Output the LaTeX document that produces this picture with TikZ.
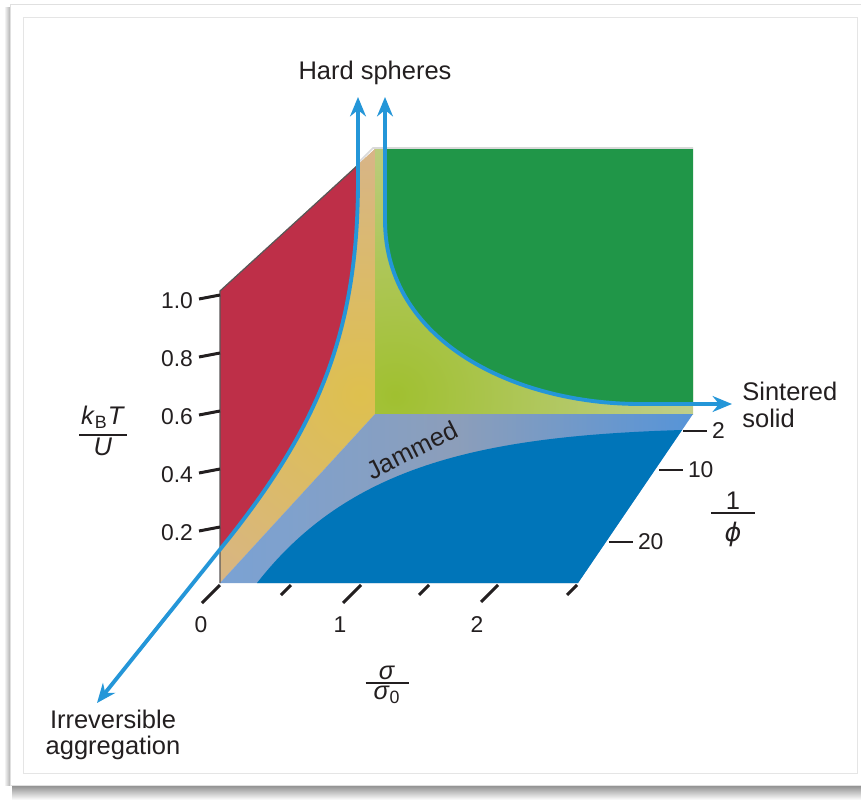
\documentclass[tikz,border=0pt]{standalone}
\usepackage{amsmath}
\usepackage{fontspec}
\setmainfont{Liberation Sans}
\newfontfamily\greekfont{DejaVu Sans}
\usetikzlibrary{arrows.meta}
\definecolor{ink}{RGB}{35,31,32}
\definecolor{flow}{RGB}{36,150,216}
\definecolor{hot}{RGB}{190,47,72}
\definecolor{solidgreen}{RGB}{32,150,72}
\definecolor{floorblue}{RGB}{0,117,185}
\definecolor{jamtan}{RGB}{214,178,148}
\definecolor{jamyel}{RGB}{222,192,78}
\definecolor{jamlime}{RGB}{160,192,48}
\definecolor{jampale}{RGB}{192,206,140}
\definecolor{jamblue}{RGB}{122,162,212}
\definecolor{jamgrey}{RGB}{140,158,186}
\definecolor{jamsky}{RGB}{86,148,216}
\newcommand{\phfrac}[3][0.88cm]{$\genfrac{}{}{1.1pt}{1}{\makebox[#1]{#2}}{\makebox[#1]{#3}}$}

\begin{document}
\begin{tikzpicture}[x=0.02cm,y=-0.02cm,
 tick/.style={draw=ink,line width=1.7pt},
 lab/.style={font=\fontsize{14.5}{15}\selectfont,text=ink,inner sep=0pt},
 num/.style={font=\fontsize{13}{15}\selectfont,text=ink,inner sep=1pt},
 flowline/.style={draw=flow,line width=2.2pt,arrows={Stealth[length=11pt,width=9pt]-Stealth[length=11pt,width=9pt]}}]
 \useasboundingbox (0,0) rectangle (861,800);
 % card
 \fill[white] (0,0) rectangle (861,800);
 \shade[top color=black!45,bottom color=white] (12,785) rectangle (861,800);
 \shade[left color=white,right color=black!30] (4,8) rectangle (10,785);
 \fill[white] (10,4) rectangle (861,785);
 \draw[black!12] (861,4) -- (10,4) -- (10,785) -- (861,785);
 \draw[black!10] (23,17) rectangle (857,773);
 % left wall
 \begin{scope}
  \clip (220,291) -- (375,149) -- (375,414) -- (220,583) -- cycle;
  \fill[jamtan] (200,140) rectangle (380,590);
  \shade[inner color=jamyel,outer color=jamtan] (360,395) circle (300);
 \end{scope}
 \fill[hot] (220,291) -- (358,165) -- (358,180) .. controls (358,333) and (318,428) .. (222,547) -- (220,549.5) -- cycle;
 % back wall
 \begin{scope}
  \clip (375,149) rectangle (693,414);
  \fill[jampale] (375,149) rectangle (693,414);
  \shade[inner color=jamlime,outer color=jampale] (395,395) circle (300);
 \end{scope}
 \fill[solidgreen] (385,149) -- (385,220) .. controls (385,343) and (517,404) .. (640,404) -- (693,404) -- (693,149) -- cycle;
 % floor
 \shade[left color=jamblue,right color=jamsky,middle color=jamgrey] (220,583) -- (578,583) -- (693,414) -- (375,414) -- cycle;
 \fill[floorblue] (257,583) .. controls (349,465) and (482,436) .. (682,430) -- (578,583) -- cycle;
 \draw[ink!75,line width=0.7pt] (220,583) -- (220,291) -- (358,165);
 \draw[black!15,line width=1pt] (358,163) -- (373,148) -- (693,148);
 \node[lab,rotate=26.6] (jam) at (412,450) {Jammed};
 % axes
 \foreach \y/\v [count=\i] in {295/1.0,353/0.8,411/0.6,469/0.4,527/0.2}{
   \draw[tick] (199,\y+4) -- (220,\y);
   \node[num,anchor=east] (kt\i) at (195,\y+6) {\v};
 }
 \foreach \x/\len in {220/18,291/10,361/18,429/10,498/17,577/10}
   \draw[tick] (\x,585) -- ++(-\len,\len);
 \foreach \x/\v [count=\i] in {201/0,340/1,477/2}
   \node[num] (sg\i) at (\x,625) {\v};
 \foreach \x/\y/\v [count=\i] in {683/431/2,659/470/10,609/542/20}
   \draw[tick] (\x,\y) -- ++(24,0) node[num,right,inner sep=2pt] (pf\i) {\v};
 \node[lab] (kbt) at (103,431) {\phfrac[0.96cm]{\rule[-0.3em]{0pt}{0pt}\textit{k}\textsubscript{B}\textit{T}}{\textit{U}}};
 \node[lab] (sig) at (387,685) {\phfrac[0.86cm]{\textit{σ}}{\textit{σ}\textsubscript{0}}};
 \node[lab] (phi) at (733,519) {\phfrac{1}{\rule{0pt}{1em}{\greekfont\itshape ϕ}}};
 % regimes
 \node[lab] (hard) at (375,73) {Hard spheres};
 \node[lab,align=left,anchor=west] (sint) at (742,405) {Sintered\\solid};
 \node[lab,align=center] (irr) at (113,735) {Irreversible\\aggregation};
 \coordinate (irr-end) at (97,703);
 \coordinate (hs-left) at (358,97);
 \coordinate (hs-right) at (385,97);
 \coordinate (sint-end) at (732,404);
 \draw[flowline] (irr-end) -- (222,547) .. controls (318,428) and (358,333) .. (358,180) -- (hs-left);
 \draw[flowline] (hs-right) -- (385,220) .. controls (385,343) and (517,404) .. (640,404) -- (sint-end);
\end{tikzpicture}
\end{document}
